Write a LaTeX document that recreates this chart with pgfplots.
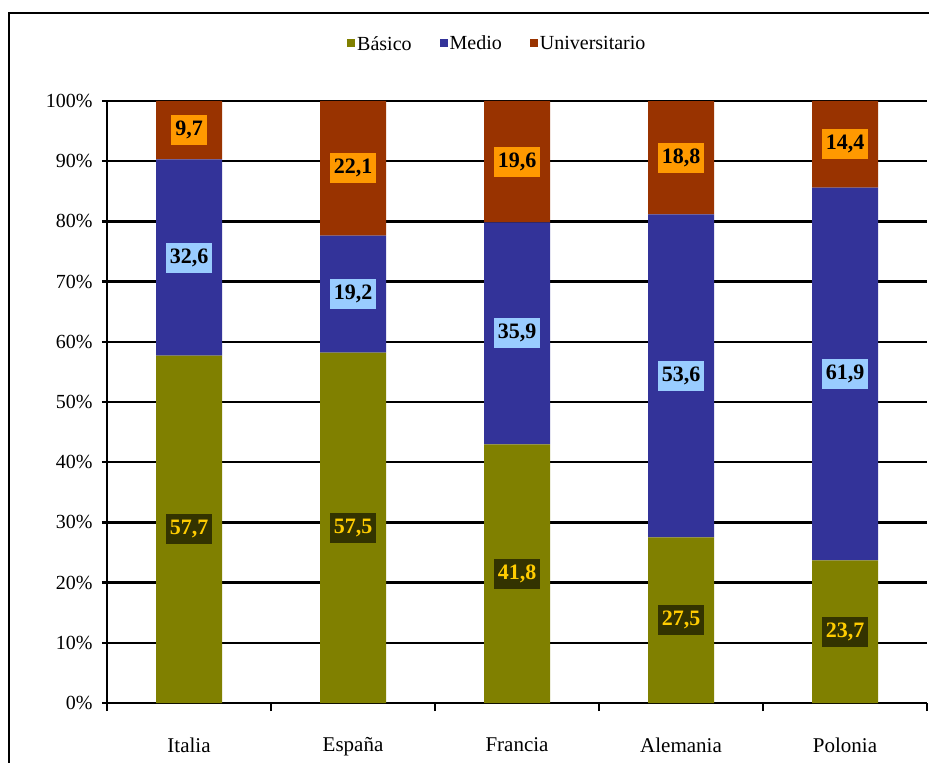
\documentclass[border=0pt]{standalone}
\usepackage{pgfplots}
\pgfplotsset{compat=1.18}
\usepackage{pgfplotstable}
\usepackage{fontspec}
\setmainfont{Liberation Serif}
\definecolor{cBas}{HTML}{808000}
\definecolor{cMed}{HTML}{333399}
\definecolor{cUni}{HTML}{993300}
\definecolor{lBas}{HTML}{333300}
\definecolor{lBasT}{HTML}{FFCC00}
\definecolor{lMed}{HTML}{99CCFF}
\definecolor{lUni}{HTML}{FF9900}
\pgfplotstableread{
x b m u
0 57.7 32.6 9.7
1 57.5 19.2 22.1
2 41.8 35.9 19.6
3 27.5 53.6 18.8
4 23.7 61.9 14.4
}\datatable
\begin{document}
\begin{tikzpicture}[x=1pt,y=1pt]
\useasboundingbox (0,0) rectangle (929,763);
\pgfplotsset{base/.style={
  at={(107pt,60pt)}, anchor=south west, scale only axis,
  width=820pt, height=602pt,
  xmin=-0.5, xmax=4.5, ymin=0, ymax=100,
  /pgf/number format/assume math mode=true,
}}
\begin{axis}[base, ybar stacked, bar width=66pt,
  axis x line=bottom, axis y line=left,
  axis line style={line width=2.5pt, -},
  ymajorgrids, grid style={line width=2.5pt, black},
  ytick={0,10,...,100},
  yticklabel={\pgfmathprintnumber{\tick}\%},
  xtick={0,1,2,3,4},
  xticklabels={Italia,España,Francia,Alemania,Polonia},
  minor xtick={-0.5,0.5,1.5,2.5,3.5,4.5},
  tick align=outside,
  major x tick style={draw=none},
  minor x tick style={black, line width=2pt},
  minor tick length=8pt,
  major y tick style={black, line width=2.5pt},
  major tick length=5pt,
  yticklabel style={font=\fontsize{20}{24}\selectfont, xshift=-6pt},
  xticklabel style={font=\fontsize{21}{24}\selectfont, yshift=-26pt},
  legend style={at={(0.476,1.095)}, anchor=center, draw=none, fill=none,
    legend columns=-1, font=\fontsize{20}{22}\selectfont,
    /tikz/every even column/.append style={column sep=26pt},
    /tikz/every odd column/.append style={column sep=0pt}},
  legend image code/.code={\fill[#1,draw=none] (2pt,-3pt) rectangle (10pt,5pt);},
]
\addplot[fill=cBas, draw=none] table[x=x, y expr={\thisrow{b}*100/(\thisrow{b}+\thisrow{m}+\thisrow{u})}] {\datatable};
\addplot[fill=cMed, draw=none] table[x=x, y expr={\thisrow{m}*100/(\thisrow{b}+\thisrow{m}+\thisrow{u})}] {\datatable};
\addplot[fill=cUni, draw=none] table[x=x, y expr={\thisrow{u}*100/(\thisrow{b}+\thisrow{m}+\thisrow{u})}] {\datatable};
\legend{Básico,Medio,Universitario}
\end{axis}
\begin{axis}[base, axis lines=none, xtick=\empty, ytick=\empty,
  nodes near coords={\pgfmathprintnumber[fixed,fixed zerofill,precision=1,use comma]{\pgfplotspointmeta}},
  nodes near coords align=center,
  point meta=explicit,
  every node near coord/.append style={anchor=center, inner xsep=4pt, inner ysep=6pt,
    font=\fontsize{22}{26}\bfseries\selectfont},
]
\addplot[draw=none, every node near coord/.append style={fill=lBas, text=lBasT}]
  table[x=x, y expr={\thisrow{b}*50/(\thisrow{b}+\thisrow{m}+\thisrow{u})}, meta=b] {\datatable};
\addplot[draw=none, every node near coord/.append style={fill=lMed, text=black}]
  table[x=x, y expr={(\thisrow{b}+\thisrow{m}/2)*100/(\thisrow{b}+\thisrow{m}+\thisrow{u})}, meta=m] {\datatable};
\addplot[draw=none, every node near coord/.append style={fill=lUni, text=black}]
  table[x=x, y expr={(\thisrow{b}+\thisrow{m}+\thisrow{u}/2)*100/(\thisrow{b}+\thisrow{m}+\thisrow{u})}, meta=u] {\datatable};
\end{axis}
\draw[line width=2pt] (9,-10) -- (9,750) -- (940,750);
\end{tikzpicture}
\end{document}
